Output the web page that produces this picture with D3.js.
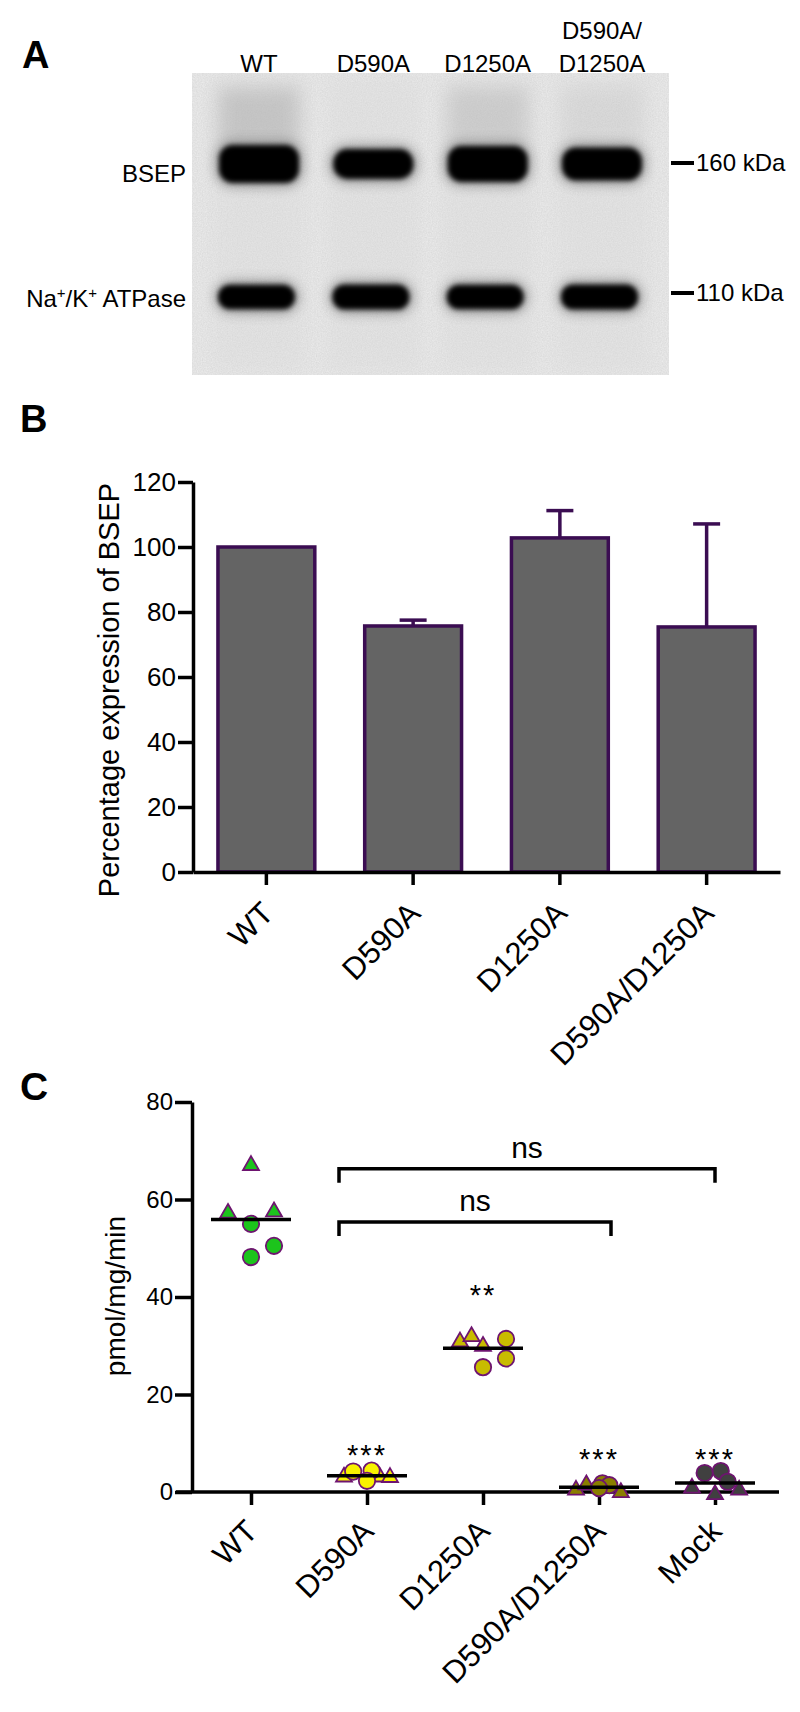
<!DOCTYPE html>
<html>
<head>
<meta charset="utf-8">
<script src="https://cdn.jsdelivr.net/npm/d3@7/dist/d3.min.js"></script>
<style>
html,body{margin:0;padding:0;background:#fff;}
svg{display:block;}
text{font-family:"Liberation Sans",Arial,Helvetica,sans-serif;fill:#000;}
</style>
</head>
<body>
<svg id="fig" width="800" height="1712" xmlns="http://www.w3.org/2000/svg"></svg>
<script>
// ---------- Panel A: western blot ----------
const lanes = ["WT", "D590A", "D1250A", "D590A/D1250A"];
const laneLabelLines = [["WT"], ["D590A"], ["D1250A"], ["D590A/", "D1250A"]];
const bsepSignal = [1.12, 0.88, 1.06, 0.97];
const nakSignal = [0.98, 1.0, 0.98, 1.0];
const markerLabels = ["160 kDa", "110 kDa"];

// ---------- Panel B: BSEP expression ----------
const categoriesB = ["WT", "D590A", "D1250A", "D590A/D1250A"];
const expressionMean = [100, 75.7, 102.8, 75.4];
const expressionSEM = [0, 1.8, 8.4, 31.7];
const yTicksB = [0, 20, 40, 60, 80, 100, 120];

// ---------- Panel C: transport activity ----------
const categoriesC = ["WT", "D590A", "D1250A", "D590A/D1250A", "Mock"];
const triangleValues = [[67.0, 57.2, 57.5], [3.1, 3.1, 3.0], [30.8, 31.9, 29.9], [0.4, 1.5, -0.1], [0.8, -0.5, 0.4]];
const triangleSlots  = [[0, -2, 2], [-2, 1.1, 2], [-2, -1, 0], [-2, -1.1, 1.9], [-2, 0, 2.1]];
const circleValues   = [[55.0, 50.5, 48.2], [4.2, 4.4, 2.3], [31.4, 27.4, 25.6], [1.8, 1.4, 0.8], [3.9, 4.3, 2.1]];
const circleSlots    = [[0, 2, 0], [-1.2, 0.4, 0], [2, 2, 0], [0.3, 0.9, 0], [-0.9, 0.5, 1.1]];
const groupColors = ["#1cc41c", "#f8f200", "#c8bc00", "#8a7e00", "#404040"];
const significance = ["", "***", "**", "***", "***"];
const significanceLevel = [null, 9.0, 41.8, 8.2, 8.2];
const comparisonFrom = ["D590A", "D590A"];
const comparisonTo = ["D590A/D1250A", "Mock"];
const comparisonLevel = [55.4, 66.3];
const comparisonLabel = ["ns", "ns"];
const yTicksC = [0, 20, 40, 60, 80];

// =====================================================
const svg = d3.select("#fig");
svg.append("rect").attr("width", 800).attr("height", 1712).attr("fill", "#fff");
const defs = svg.append("defs");
function blurFilter(id, sd) {
  defs.append("filter").attr("id", id).attr("x", "-60%").attr("y", "-60%")
    .attr("width", "220%").attr("height", "220%")
    .append("feGaussianBlur").attr("stdDeviation", sd);
}
blurFilter("bandBlur", 2.4);
blurFilter("haloBlur", 6);
blurFilter("smearBlur", 9);
const grain = defs.append("filter").attr("id", "grain").attr("x", 0).attr("y", 0).attr("width", "100%").attr("height", "100%");
grain.append("feTurbulence").attr("type", "fractalNoise").attr("baseFrequency", "0.8").attr("numOctaves", 2).attr("seed", 4).attr("result", "n");
grain.append("feColorMatrix").attr("in", "n").attr("type", "matrix")
  .attr("values", "0 0 0 0 0  0 0 0 0 0  0 0 0 0 0  0 0 0 0.1 0");

const FONT = '"Liberation Sans",Arial,Helvetica,sans-serif';

// ---------------- Panel A ----------------
const blot = {x0: 192, x1: 669, y0: 73, y1: 375};
const xLane = d3.scalePoint().domain(lanes).range([259, 602]);
const bandCenterY = [164, 297];
const gA = svg.append("g");
gA.append("rect").attr("x", blot.x0).attr("y", blot.y0).attr("width", blot.x1 - blot.x0)
  .attr("height", blot.y1 - blot.y0).attr("fill", "#efefef");
gA.append("rect").attr("x", blot.x0).attr("y", blot.y0).attr("width", blot.x1 - blot.x0)
  .attr("height", blot.y1 - blot.y0).attr("filter", "url(#grain)");
const clipA = defs.append("clipPath").attr("id", "blotClip");
clipA.append("rect").attr("x", blot.x0).attr("y", blot.y0).attr("width", blot.x1 - blot.x0).attr("height", blot.y1 - blot.y0);
const lanesG = gA.append("g").attr("clip-path", "url(#blotClip)");
lanesG.selectAll("rect.lane").data(lanes).join("rect")
  .attr("x", d => xLane(d) - 46).attr("y", blot.y0 + 4).attr("width", 92).attr("height", blot.y1 - blot.y0 - 8)
  .attr("fill", "#d8d8d8").attr("opacity", 0.35).attr("filter", "url(#smearBlur)");
lanesG.selectAll("rect.smear").data(lanes).join("rect")
  .attr("x", d => xLane(d) - 40).attr("y", 88).attr("width", 80).attr("height", 62)
  .attr("fill", "#a8a8a8").attr("opacity", (d, i) => Math.max(0, (bsepSignal[i] - 0.9) * 2.2))
  .attr("filter", "url(#smearBlur)");
lanesG.selectAll("rect.bsepHalo").data(lanes).join("rect")
  .attr("x", d => xLane(d) - 44).attr("width", 88)
  .attr("y", (d, i) => bandCenterY[0] - 34 * bsepSignal[i] / 2 - 4).attr("height", (d, i) => 34 * bsepSignal[i] + 8)
  .attr("rx", 18).attr("fill", "#444").attr("opacity", 0.45).attr("filter", "url(#haloBlur)");
lanesG.selectAll("rect.bsep").data(lanes).join("rect")
  .attr("x", d => xLane(d) - 40).attr("width", 80)
  .attr("y", (d, i) => bandCenterY[0] - 34 * bsepSignal[i] / 2).attr("height", (d, i) => 34 * bsepSignal[i])
  .attr("rx", 14).attr("fill", "#060606").attr("filter", "url(#bandBlur)");
lanesG.selectAll("rect.nakHalo").data(lanes).join("rect")
  .attr("x", d => xLane(d) - 44).attr("width", 84)
  .attr("y", (d, i) => bandCenterY[1] - 25 * nakSignal[i] / 2 - 4).attr("height", (d, i) => 25 * nakSignal[i] + 8)
  .attr("rx", 16).attr("fill", "#444").attr("opacity", 0.45).attr("filter", "url(#haloBlur)");
lanesG.selectAll("rect.nak").data(lanes).join("rect")
  .attr("x", d => xLane(d) - 41).attr("width", 77)
  .attr("y", (d, i) => bandCenterY[1] - 25 * nakSignal[i] / 2).attr("height", (d, i) => 25 * nakSignal[i])
  .attr("rx", 12).attr("fill", "#060606").attr("filter", "url(#bandBlur)");
lanes.forEach((lane, i) => {
  const lines = laneLabelLines[i];
  lines.forEach((t, k) => {
    gA.append("text").attr("x", xLane(lane)).attr("y", 72 - (lines.length - 1 - k) * 33)
      .attr("text-anchor", "middle").attr("font-size", 24).text(t);
  });
});
gA.append("text").attr("x", 186).attr("y", 182).attr("text-anchor", "end").attr("font-size", 24).text("BSEP");
const nak = gA.append("text").attr("x", 186).attr("y", 307).attr("text-anchor", "end").attr("font-size", 24);
nak.append("tspan").text("Na");
nak.append("tspan").attr("dy", -9).attr("font-size", 15).text("+");
nak.append("tspan").attr("dy", 9).text("/K");
nak.append("tspan").attr("dy", -9).attr("font-size", 15).text("+");
nak.append("tspan").attr("dy", 9).text(" ATPase");
markerLabels.forEach((m, i) => {
  const yy = [163, 293][i];
  gA.append("line").attr("x1", 671).attr("x2", 694).attr("y1", yy).attr("y2", yy).attr("stroke", "#000").attr("stroke-width", 4);
  gA.append("text").attr("x", 696).attr("y", yy + 8).attr("font-size", 24).text(m);
});
svg.append("text").attr("x", 22).attr("y", 68).attr("font-size", 38).attr("font-weight", "bold").text("A");

// ---------------- Panel B ----------------
const yB = d3.scaleLinear().domain([0, 120]).range([872, 482]);
const xB = d3.scaleBand().domain(categoriesB).range([193, 780]).paddingInner(0.34).paddingOuter(0.17);
const purple = "#3b0d52";
const gB = svg.append("g");
gB.selectAll("rect.bar").data(categoriesB).join("rect")
  .attr("x", d => xB(d)).attr("width", xB.bandwidth())
  .attr("y", (d, i) => yB(expressionMean[i])).attr("height", (d, i) => yB(0) - yB(expressionMean[i]))
  .attr("fill", "#646464").attr("stroke", purple).attr("stroke-width", 3.5);
categoriesB.forEach((c, i) => {
  if (expressionSEM[i] <= 0) return;
  const cx = xB(c) + xB.bandwidth() / 2;
  const top = yB(expressionMean[i] + expressionSEM[i]);
  gB.append("line").attr("x1", cx).attr("x2", cx).attr("y1", yB(expressionMean[i])).attr("y2", top)
    .attr("stroke", purple).attr("stroke-width", 3.5);
  gB.append("line").attr("x1", cx - 13.5).attr("x2", cx + 13.5).attr("y1", top).attr("y2", top)
    .attr("stroke", purple).attr("stroke-width", 3.5);
});
const axYB = gB.append("g").attr("transform", "translate(193,0)")
  .call(d3.axisLeft(yB).tickValues(yTicksB).tickSize(15).tickSizeOuter(0).tickPadding(2));
const axXB = gB.append("g").attr("transform", `translate(0,${yB(0)})`)
  .call(d3.axisBottom(xB).tickSize(13).tickSizeOuter(0));
[axYB, axXB].forEach(a => {
  a.select(".domain").attr("stroke", "#000").attr("stroke-width", 3.5);
  a.selectAll(".tick line").attr("stroke", "#000").attr("stroke-width", 3.5);
  a.attr("font-family", FONT);
});
axYB.selectAll(".tick text").attr("font-size", 26).attr("fill", "#000");
axXB.selectAll(".tick text").attr("font-size", 31).attr("fill", "#000")
  .attr("x", 0).attr("y", 0).attr("dy", 0).attr("text-anchor", "end")
  .attr("transform", "translate(9,43) rotate(-45)");
svg.append("text").attr("transform", "translate(119,690) rotate(-90)").attr("text-anchor", "middle")
  .attr("font-size", 29).text("Percentage expression of BSEP");
svg.append("text").attr("x", 20).attr("y", 432).attr("font-size", 38).attr("font-weight", "bold").text("B");

// ---------------- Panel C ----------------
const yC = d3.scaleLinear().domain([0, 80]).range([1492, 1102]);
const xC = d3.scalePoint().domain(categoriesC).range([193, 773]).padding(0.5);
const slotPx = 11.5;
const gC = svg.append("g");
const axYC = gC.append("g").attr("transform", "translate(192,0)")
  .call(d3.axisLeft(yC).tickValues(yTicksC).tickSize(17).tickSizeOuter(0).tickPadding(2));
const axXC = gC.append("g").attr("transform", `translate(0,${yC(0)})`)
  .call(d3.axisBottom(xC).tickSize(13).tickSizeOuter(0));
axXC.select(".domain").remove();
axXC.append("line").attr("x1", 176).attr("x2", 779).attr("y1", 0).attr("y2", 0).attr("stroke", "#000").attr("stroke-width", 3.5);
[axYC, axXC].forEach(a => {
  a.select(".domain").attr("stroke", "#000").attr("stroke-width", 3.5);
  a.selectAll(".tick line").attr("stroke", "#000").attr("stroke-width", 3.5);
  a.attr("font-family", FONT);
});
axYC.selectAll(".tick text").attr("font-size", 24).attr("fill", "#000");
axXC.selectAll(".tick text").attr("font-size", 31).attr("fill", "#000")
  .attr("x", 0).attr("y", 0).attr("dy", 0).attr("text-anchor", "end")
  .attr("transform", "translate(8,41) rotate(-45)");
svg.append("text").attr("transform", "translate(125,1296) rotate(-90)").attr("text-anchor", "middle")
  .attr("font-size", 28).text("pmol/mg/min");
svg.append("text").attr("x", 20).attr("y", 1100).attr("font-size", 39).attr("font-weight", "bold").text("C");

const markStroke = "#6e1470";
const triPath = d3.symbol(d3.symbolTriangle, 110)();
const ptsG = gC.append("g");
categoriesC.forEach((c, i) => {
  triangleValues[i].forEach((v, j) => {
    ptsG.append("path").attr("d", triPath)
      .attr("transform", `translate(${xC(c) + triangleSlots[i][j] * slotPx},${yC(v)})`)
      .attr("fill", groupColors[i]).attr("stroke", markStroke).attr("stroke-width", 1.8);
  });
  circleValues[i].forEach((v, j) => {
    ptsG.append("circle").attr("cx", xC(c) + circleSlots[i][j] * slotPx).attr("cy", yC(v)).attr("r", 8.2)
      .attr("fill", groupColors[i]).attr("stroke", markStroke).attr("stroke-width", 1.8);
  });
  const m = d3.mean(triangleValues[i].concat(circleValues[i]));
  gC.append("line").attr("x1", xC(c) - 40).attr("x2", xC(c) + 40).attr("y1", yC(m)).attr("y2", yC(m))
    .attr("stroke", "#000").attr("stroke-width", 3.5);
  if (significance[i]) {
    gC.append("text").attr("x", xC(c)).attr("y", yC(significanceLevel[i]) + 17)
      .attr("text-anchor", "middle").attr("font-size", 29).attr("letter-spacing", 2).text(significance[i]);
  }
});
comparisonFrom.forEach((f, k) => {
  const x1 = xC(f) - 28;
  const x2 = xC(comparisonTo[k]) + (k === 0 ? 12 : 0);
  const yy = yC(comparisonLevel[k]);
  gC.append("path").attr("d", `M${x1},${yy + 14}V${yy}H${x2}V${yy + 14}`)
    .attr("fill", "none").attr("stroke", "#000").attr("stroke-width", 3.5);
  gC.append("text").attr("x", (x1 + x2) / 2).attr("y", yy - 11).attr("text-anchor", "middle")
    .attr("font-size", 30).text(comparisonLabel[k]);
});
</script>
</body>
</html>
